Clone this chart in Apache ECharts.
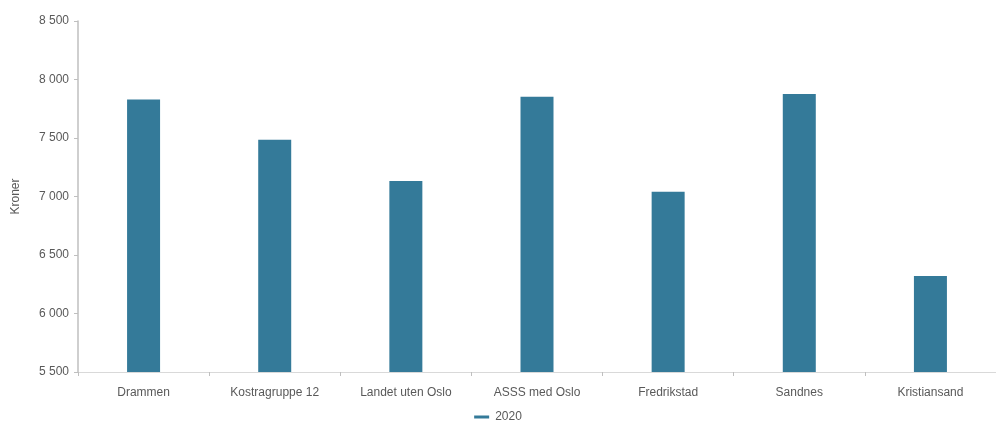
<!DOCTYPE html>
<html><head><meta charset="utf-8">
<script src="https://cdn.jsdelivr.net/npm/echarts@6/dist/echarts.min.js"></script>
<style>html,body{margin:0;padding:0;background:#fff}#c{width:996px;height:423px}</style>
</head><body><div id="c"></div>
<script>
const categories = ['Drammen','Kostragruppe 12','Landet uten Oslo','ASSS med Oslo','Fredrikstad','Sandnes','Kristiansand'];
const values2020 = [7830, 7485, 7132, 7852, 7040, 7876, 6320];
const seriesName = '2020';
const yTitle = 'Kroner';
const chart = echarts.init(document.getElementById('c'));
chart.setOption({
  animation:false,
  textStyle:{fontFamily:'Arial, Liberation Sans, sans-serif'},
  grid:{left:78,right:0,top:21,bottom:51},
  legend:{top:411,left:'center',padding:[0,5,0,5],data:[{name:seriesName,icon:'path://M0,0 L10,0 L10,2 L0,2 Z'}],itemWidth:17,itemHeight:3,itemGap:6,
    textStyle:{color:'#595959',fontSize:12}},
  xAxis:{type:'category',data:categories,
    axisLine:{lineStyle:{color:'#d9d9d9'}},
    axisTick:{show:true,length:4,lineStyle:{color:'#bfbfbf'}},
    axisLabel:{color:'#595959',fontSize:12,margin:15}},
  yAxis:{type:'value',min:5500,max:8500,interval:500,name:yTitle,nameLocation:'middle',nameGap:56,
    nameTextStyle:{color:'#595959',fontSize:12},
    axisLine:{show:true,lineStyle:{color:'#bfbfbf',width:1.5}},
    axisTick:{show:true,length:4,lineStyle:{color:'#bfbfbf'}},
    splitLine:{show:false},
    axisLabel:{color:'#595959',fontSize:12,margin:9,formatter:v=>String(v).replace(/\B(?=(\d{3})+(?!\d))/g,' ')}},
  series:[{name:seriesName,type:'bar',data:values2020,barWidth:33,itemStyle:{color:'#347a99'}}]
});
</script></body></html>
